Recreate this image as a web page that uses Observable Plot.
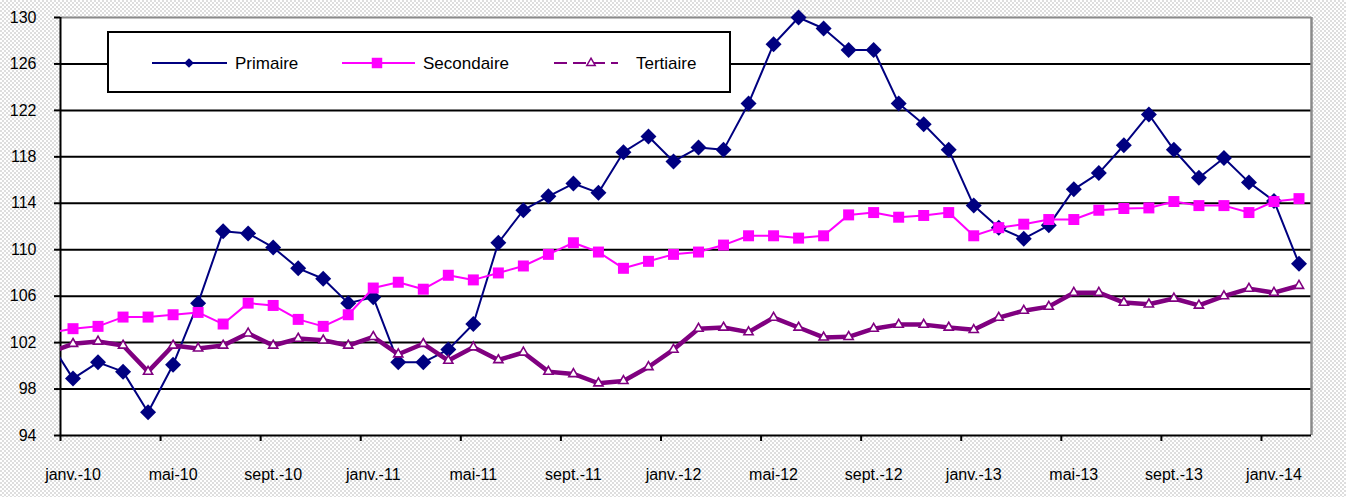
<!DOCTYPE html>
<html>
<head>
<meta charset="utf-8">
<script src="https://cdn.jsdelivr.net/npm/d3@7"></script>
<script src="https://cdn.jsdelivr.net/npm/@observablehq/plot@0.6"></script>
<style>
  html, body { margin: 0; padding: 0; }
  body {
    width: 1346px; height: 497px; overflow: hidden; position: relative;
    font-family: "Liberation Sans", Arial, sans-serif;
    background-color: #fff;
    background-image: repeating-conic-gradient(#dedede 0 25%, #ffffff 0 50%);
    background-size: 4px 4px;
  }
  #chart { position: absolute; left: 0; top: 0; }
  #legend { position: absolute; left: 107px; top: 31px; width: 624px; height: 62px; }
</style>
</head>
<body>
<div id="chart"></div>
<div id="legend"></div>
<script>
// Months: déc.-09 (partly outside the frame) to févr.-14
const monthNames = ["janv.", "févr.", "mars", "avr.", "mai", "juin", "juil.", "août", "sept.", "oct.", "nov.", "déc."];
const categories = ["déc.-09"];
for (let y = 10; y <= 14; y++) {
  for (let m = 0; m < 12; m++) {
    if (y === 14 && m > 1) break;
    categories.push(monthNames[m] + "-" + String(y).padStart(2, "0"));
  }
}

const primaire = [102.3,
  98.9, 100.3, 99.5, 96.0, 100.1, 105.4, 111.6, 111.4, 110.2, 108.4, 107.5, 105.4,
  105.9, 100.3, 100.3, 101.4, 103.6, 110.6, 113.4, 114.6, 115.7, 114.9, 118.4, 119.75,
  117.6, 118.8, 118.6, 122.6, 127.7, 130.0, 129.05, 127.2, 127.2, 122.6, 120.8, 118.6,
  113.8, 111.9, 110.95, 112.1, 115.2, 116.6, 119.0, 121.65, 118.6, 116.2, 117.9, 115.8,
  114.2, 108.8];

const secondaire = [102.8,
  103.2, 103.4, 104.2, 104.2, 104.4, 104.6, 103.6, 105.4, 105.2, 104.0, 103.4, 104.4,
  106.7, 107.2, 106.6, 107.8, 107.4, 108.0, 108.6, 109.6, 110.6, 109.8, 108.4, 109.0,
  109.6, 109.8, 110.4, 111.2, 111.2, 111.0, 111.2, 113.0, 113.2, 112.8, 112.95, 113.2,
  111.2, 111.9, 112.2, 112.6, 112.6, 113.4, 113.55, 113.6, 114.15, 113.8, 113.8, 113.2,
  114.15, 114.4];

const tertiaire = [101.1,
  101.9, 102.1, 101.75, 99.5, 101.75, 101.5, 101.75, 102.8, 101.75, 102.35, 102.2, 101.75,
  102.5, 101.0, 101.9, 100.45, 101.6, 100.5, 101.15, 99.5, 99.3, 98.5, 98.7, 99.9,
  101.4, 103.2, 103.3, 102.9, 104.15, 103.3, 102.45, 102.5, 103.2, 103.55, 103.55, 103.3,
  103.1, 104.15, 104.75, 105.1, 106.3, 106.3, 105.45, 105.3, 105.8, 105.2, 106.0, 106.65,
  106.3, 106.9];

const tickLabels = ["janv.-10", "mai-10", "sept.-10", "janv.-11", "mai-11", "sept.-11",
  "janv.-12", "mai-12", "sept.-12", "janv.-13", "mai-13", "sept.-13", "janv.-14"];
const yTicks = [94, 98, 102, 106, 110, 114, 118, 122, 126, 130];

// category position: index 0 = déc.-09 sits half a month left of the frame
const rows = categories.map((c, i) => ({
  cat: c, pos: i - 0.5,
  primaire: primaire[i], secondaire: secondaire[i], tertiaire: tertiaire[i]
}));
const shown = rows.slice(1);
const tickStarts = tickLabels.map((d, i) => i * 4);
const labelPos = tickLabels.map((d, i) => i * 4 + 0.5);

const NAVY = "#000080", MAGENTA = "#FF00FF", PURPLE = "#800080";

const chart = Plot.plot({
  width: 1346, height: 497,
  marginLeft: 60, marginRight: 35, marginTop: 17, marginBottom: 62,
  style: { background: "transparent", fontFamily: "'Liberation Sans', Arial, sans-serif", fontSize: "16px", color: "#000" },
  x: { type: "linear", domain: [0, 50], axis: null, label: null },
  y: { domain: [94, 130], axis: null, label: null },
  marks: [
    Plot.frame({ fill: "white", stroke: null }),
    Plot.ruleY(yTicks.filter(d => d > 94 && d < 130), { stroke: "#000", strokeWidth: 2 }),
    Plot.ruleY([130], { stroke: "#8a8a8a", strokeWidth: 2 }),
    Plot.ruleX([50], { stroke: "#8a8a8a", strokeWidth: 2.5 }),
    Plot.ruleX([0], { stroke: "#000", strokeWidth: 2 }),
    Plot.ruleY([94], { stroke: "#000", strokeWidth: 2 }),
    Plot.axisY({ ticks: yTicks, tickSize: 6, tickPadding: 18, label: null, tickFormat: d => String(d), stroke: "#000", strokeWidth: 2, fontSize: 16 }),
    Plot.axisX({ ticks: tickStarts, tickSize: 6, label: null, tickFormat: () => "", stroke: "#000", strokeWidth: 2 }),
    Plot.axisX({ ticks: labelPos, tickSize: 0, tickPadding: 33, fontSize: 16, label: null,
      tickFormat: d => tickLabels[Math.round((d - 0.5) / 4)] }),

    Plot.line(rows, { x: "pos", y: "primaire", stroke: NAVY, strokeWidth: 2, clip: true }),
    Plot.dot(shown, { x: "pos", y: "primaire", symbol: "diamond2", r: 7.2, fill: NAVY, stroke: null }),

    Plot.line(rows, { x: "pos", y: "secondaire", stroke: MAGENTA, strokeWidth: 2, clip: true }),
    Plot.dot(shown, { x: "pos", y: "secondaire", symbol: "square", r: 6.2, fill: MAGENTA, stroke: null }),

    Plot.line(rows, { x: "pos", y: "tertiaire", stroke: PURPLE, strokeWidth: 4.5, clip: true }),
    Plot.dot(shown, { x: "pos", y: "tertiaire", symbol: "triangle", r: 3.4, fill: "white", stroke: PURPLE, strokeWidth: 1.6 })
  ]
});
document.getElementById("chart").appendChild(chart);

// Legend (box overlapping the plot area, as in the reference)
const legendItems = [
  { label: "Primaire", color: NAVY, x1: 45, x2: 120, mx: 82, tx: 128, symbol: d3.symbolDiamond2, size: 60, fill: NAVY, dash: null, width: 2 },
  { label: "Secondaire", color: MAGENTA, x1: 235, x2: 308, mx: 270, tx: 316, symbol: d3.symbolSquare, size: 110, fill: MAGENTA, dash: null, width: 2 },
  { label: "Tertiaire", color: PURPLE, x1: 447, x2: 511, mx: 484, tx: 529, symbol: d3.symbolTriangle, size: 30, fill: "white", dash: "13,6", width: 2 }
];
const lsvg = d3.select("#legend").append("svg").attr("width", 624).attr("height", 62);
lsvg.append("rect").attr("x", 1).attr("y", 1).attr("width", 622).attr("height", 60)
  .attr("fill", "white").attr("stroke", "#000").attr("stroke-width", 2);
for (const it of legendItems) {
  lsvg.append("line").attr("x1", it.x1).attr("x2", it.x2).attr("y1", 32).attr("y2", 32)
    .attr("stroke", it.color).attr("stroke-width", it.width).attr("stroke-dasharray", it.dash);
  lsvg.append("path").attr("d", d3.symbol(it.symbol, it.size)())
    .attr("transform", `translate(${it.mx},32)`)
    .attr("fill", it.fill).attr("stroke", it.fill === "white" ? it.color : "none").attr("stroke-width", 1.5);
  lsvg.append("text").attr("x", it.tx).attr("y", 32).attr("dy", "0.35em")
    .attr("font-size", 17).attr("font-family", "'Liberation Sans', Arial, sans-serif").attr("fill", "#000")
    .text(it.label);
}
</script>
</body>
</html>
